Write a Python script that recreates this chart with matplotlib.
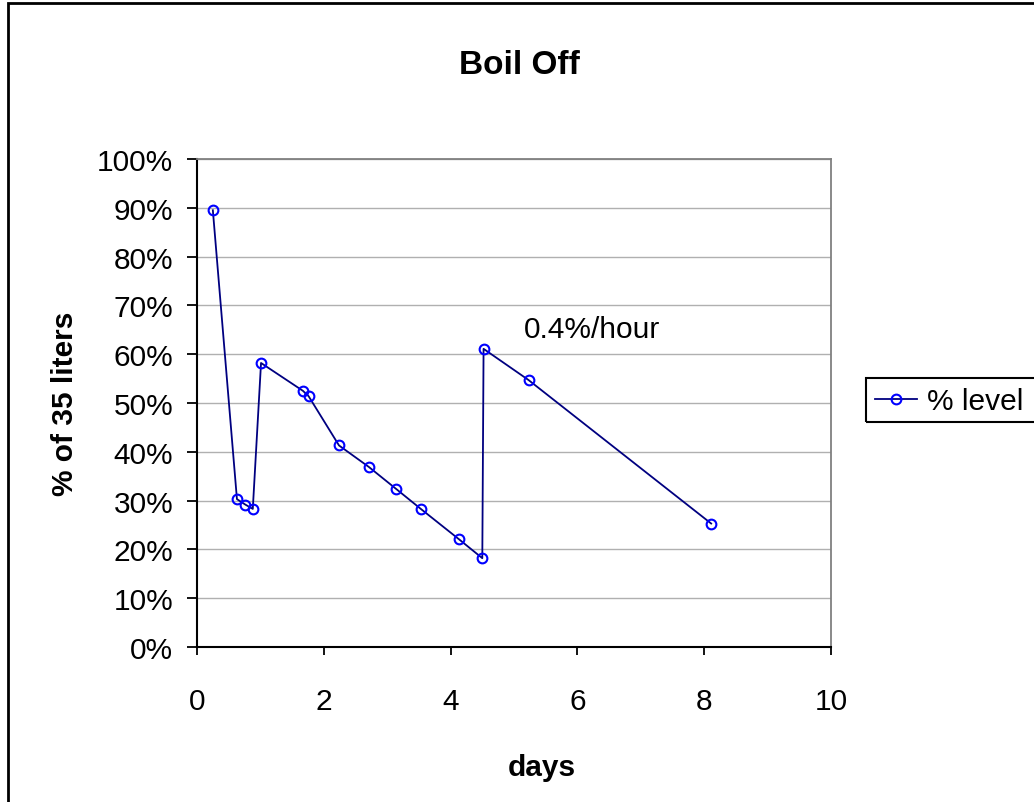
import matplotlib
matplotlib.use('Agg')
import matplotlib.pyplot as plt
from matplotlib.patches import Rectangle
from matplotlib.ticker import PercentFormatter

plt.rcParams['font.family'] = ['Liberation Sans', 'DejaVu Sans']

# boil off readings
days = [0.25, 0.63, 0.76, 0.88, 1.01, 1.67, 1.76, 2.24, 2.71, 3.14,
        3.53, 4.13, 4.50, 4.52, 5.23, 8.11]
level = [89.5, 30.3, 29.2, 28.3, 58.2, 52.5, 51.4, 41.3, 36.9, 32.4,
         28.3, 22.1, 18.2, 61.1, 54.7, 25.3]

W, H = 1034, 803
fig = plt.figure(figsize=(W / 100, H / 100), dpi=100)
ax = fig.add_axes([197 / W, 1 - 648 / H, (831 - 197) / W, (648 - 160) / H])

ax.plot(days, level, color='#000080', lw=1.3, marker='o', ms=7,
        mfc='none', mec='#0000FF', mew=1.5, label='% level')

ax.set_xlim(0, 10)
ax.set_ylim(0, 100)
ax.set_xticks(range(0, 11, 2))
ax.set_yticks(range(0, 101, 10))
ax.yaxis.set_major_formatter(PercentFormatter(decimals=0))
ax.grid(axis='y', color='#B0B0B0', lw=1)
ax.set_axisbelow(True)

for s in ['top', 'right']:
    ax.spines[s].set_color('#808080')
    ax.spines[s].set_linewidth(1.3)
for s in ['left', 'bottom']:
    ax.spines[s].set_color('black')
    ax.spines[s].set_linewidth(1.5)

ax.tick_params(axis='y', length=7, width=1.3, labelsize=21.5, pad=10)
ax.tick_params(axis='x', length=6, width=1.3, labelsize=21.5, pad=23)

ax.text(5.15, 63.5, '0.4%/hour', fontsize=21.5)

fig.text(519 / W, 1 - 66 / H, 'Boil Off', fontsize=24, weight='bold',
         ha='center', va='center')
fig.text(542 / W, 1 - 768 / H, 'days', fontsize=21.5, weight='bold',
         ha='center', va='center')
fig.text(65 / W, 1 - 404 / H, '% of 35 liters', fontsize=21.5, weight='bold',
         ha='center', va='center', rotation=90)

# legend box runs off the right edge, like the original
leg = ax.legend(loc='upper left', bbox_to_anchor=(866 / W, 1 - 379 / H),
                bbox_transform=fig.transFigure, frameon=False,
                fontsize=21.5, handlelength=1.4, handletextpad=0.33,
                borderpad=0.3, borderaxespad=0)
fig.patches.append(Rectangle((866 / W, 1 - 423 / H), 0.3, 44 / H,
                             transform=fig.transFigure, fill=False,
                             edgecolor='black', lw=1.5))

fig.patches.append(Rectangle((8 / W, -0.05), 1.1, 1 - 4 / H + 0.05,
                             transform=fig.transFigure, fill=False,
                             edgecolor='black', lw=2))

fig.savefig('out.png', dpi=100)
